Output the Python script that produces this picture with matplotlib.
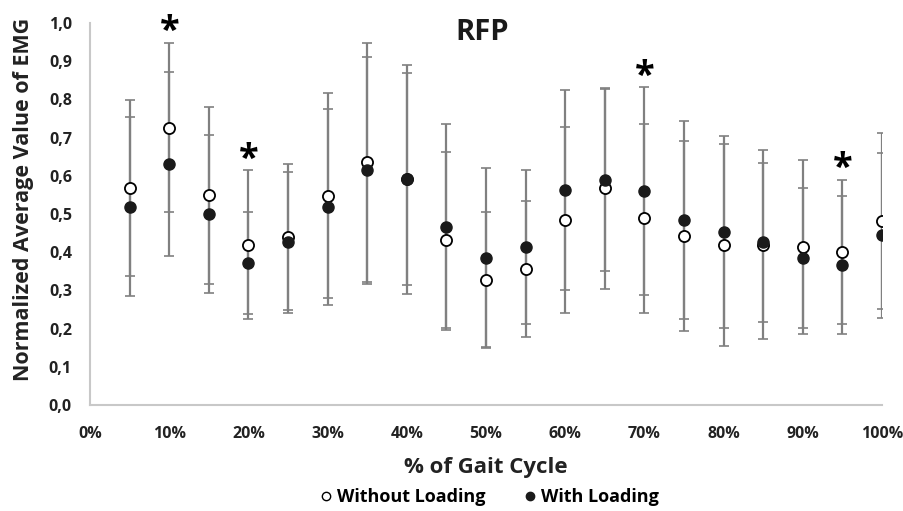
import matplotlib
matplotlib.use("Agg")
import matplotlib.pyplot as plt
from matplotlib.lines import Line2D
from matplotlib.ticker import FuncFormatter

plt.rcParams['font.family'] = ['Open Sans', 'DejaVu Sans']
plt.rcParams['font.weight'] = 'bold'

# % of gait cycle
gait = [5, 10, 15, 20, 25, 30, 35, 40, 45, 50, 55, 60, 65, 70, 75, 80, 85, 90, 95, 100]

# without loading (open circles)
without_mean = [0.569, 0.726, 0.549, 0.419, 0.440, 0.548, 0.635, 0.591, 0.432, 0.328,
                0.355, 0.485, 0.567, 0.489, 0.442, 0.419, 0.420, 0.413, 0.401, 0.482]
without_sd = [0.230, 0.222, 0.232, 0.195, 0.190, 0.268, 0.312, 0.300, 0.230, 0.178,
              0.178, 0.243, 0.262, 0.247, 0.249, 0.264, 0.247, 0.228, 0.188, 0.230]

# with loading (filled circles)
with_mean = [0.519, 0.631, 0.501, 0.371, 0.426, 0.519, 0.614, 0.591, 0.466, 0.386,
             0.413, 0.562, 0.589, 0.560, 0.484, 0.453, 0.426, 0.384, 0.366, 0.444]
with_sd = [0.234, 0.242, 0.207, 0.133, 0.184, 0.256, 0.298, 0.277, 0.270, 0.234,
           0.202, 0.262, 0.238, 0.272, 0.260, 0.252, 0.208, 0.183, 0.180, 0.216]

# significant differences
signif = [10, 20, 70, 95]

y_ticks = [0.0, 0.1, 0.2, 0.3, 0.4, 0.5, 0.6, 0.7, 0.8, 0.9, 1.0]
x_ticks = [0, 10, 20, 30, 40, 50, 60, 70, 80, 90, 100]

fig = plt.figure(figsize=(9.04, 5.11), dpi=100)
ax = fig.add_axes([0.0996, 0.2074, 0.876, 0.7476])

bar_col = '#808080'
ax.errorbar(gait, without_mean, yerr=without_sd, fmt='none', ecolor=bar_col,
            elinewidth=1.6, capsize=3.3, capthick=1.2, zorder=2)
ax.errorbar(gait, with_mean, yerr=with_sd, fmt='none', ecolor=bar_col,
            elinewidth=1.6, capsize=3.3, capthick=1.2, zorder=2)
ax.plot(gait, without_mean, 'o', ms=8, mfc='white', mec='black', mew=1.3,
        ls='none', zorder=3)
ax.plot(gait, with_mean, 'o', ms=8, mfc='#1a1a1a', mec='#1a1a1a', mew=1.0,
        ls='none', zorder=4)

for g in signif:
    i = gait.index(g)
    top = max(without_mean[i] + without_sd[i], with_mean[i] + with_sd[i])
    ax.text(g, top + 0.028, '*', ha='center', va='center', fontsize=26,
            fontweight='bold', color='black', zorder=5)

ax.set_xlim(0, 100)
ax.set_ylim(0, 1.0)
ax.set_xticks(x_ticks)
ax.set_yticks(y_ticks)
ax.xaxis.set_major_formatter(FuncFormatter(lambda v, p: f'{int(v)}%'))
ax.yaxis.set_major_formatter(FuncFormatter(lambda v, p: f'{v:.1f}'.replace('.', ',')))
ax.tick_params(axis='both', length=0, labelsize=11.5, colors='#222222')
ax.tick_params(axis='x', pad=15)
ax.tick_params(axis='y', pad=13)
for lab in ax.get_xticklabels() + ax.get_yticklabels():
    lab.set_fontweight('bold')

for side in ['top', 'right']:
    ax.spines[side].set_visible(False)
for side in ['left', 'bottom']:
    ax.spines[side].set_color('#c8c8c8')
    ax.spines[side].set_linewidth(1.5)

ax.text(0.495, 0.975, 'RFP', transform=ax.transAxes, ha='center', va='center',
        fontsize=21, fontweight='bold', color='#1a1a1a')

fig.text(486 / 904, 1 - 468 / 511, '% of Gait Cycle', ha='center', va='center',
         fontsize=16, fontweight='bold', color='#222222')
fig.text(24 / 904, 1 - 199 / 511, 'Normalized Average Value of EMG', rotation=90,
         ha='center', va='center', fontsize=15.5, fontweight='bold', color='#222222')

handles = [
    Line2D([], [], marker='o', ls='none', ms=6, mfc='white', mec='black', mew=1.0),
    Line2D([], [], marker='o', ls='none', ms=6, mfc='#1a1a1a', mec='#1a1a1a'),
]
fig.legend(handles, ['Without Loading', 'With Loading'], loc='center',
           bbox_to_anchor=(488 / 904, 1 - 497 / 511), ncol=2, frameon=False,
           prop={'size': 13, 'weight': 'bold'}, handletextpad=0.1,
           columnspacing=2.0, handlelength=1.0)

fig.savefig('out.png', dpi=100)
